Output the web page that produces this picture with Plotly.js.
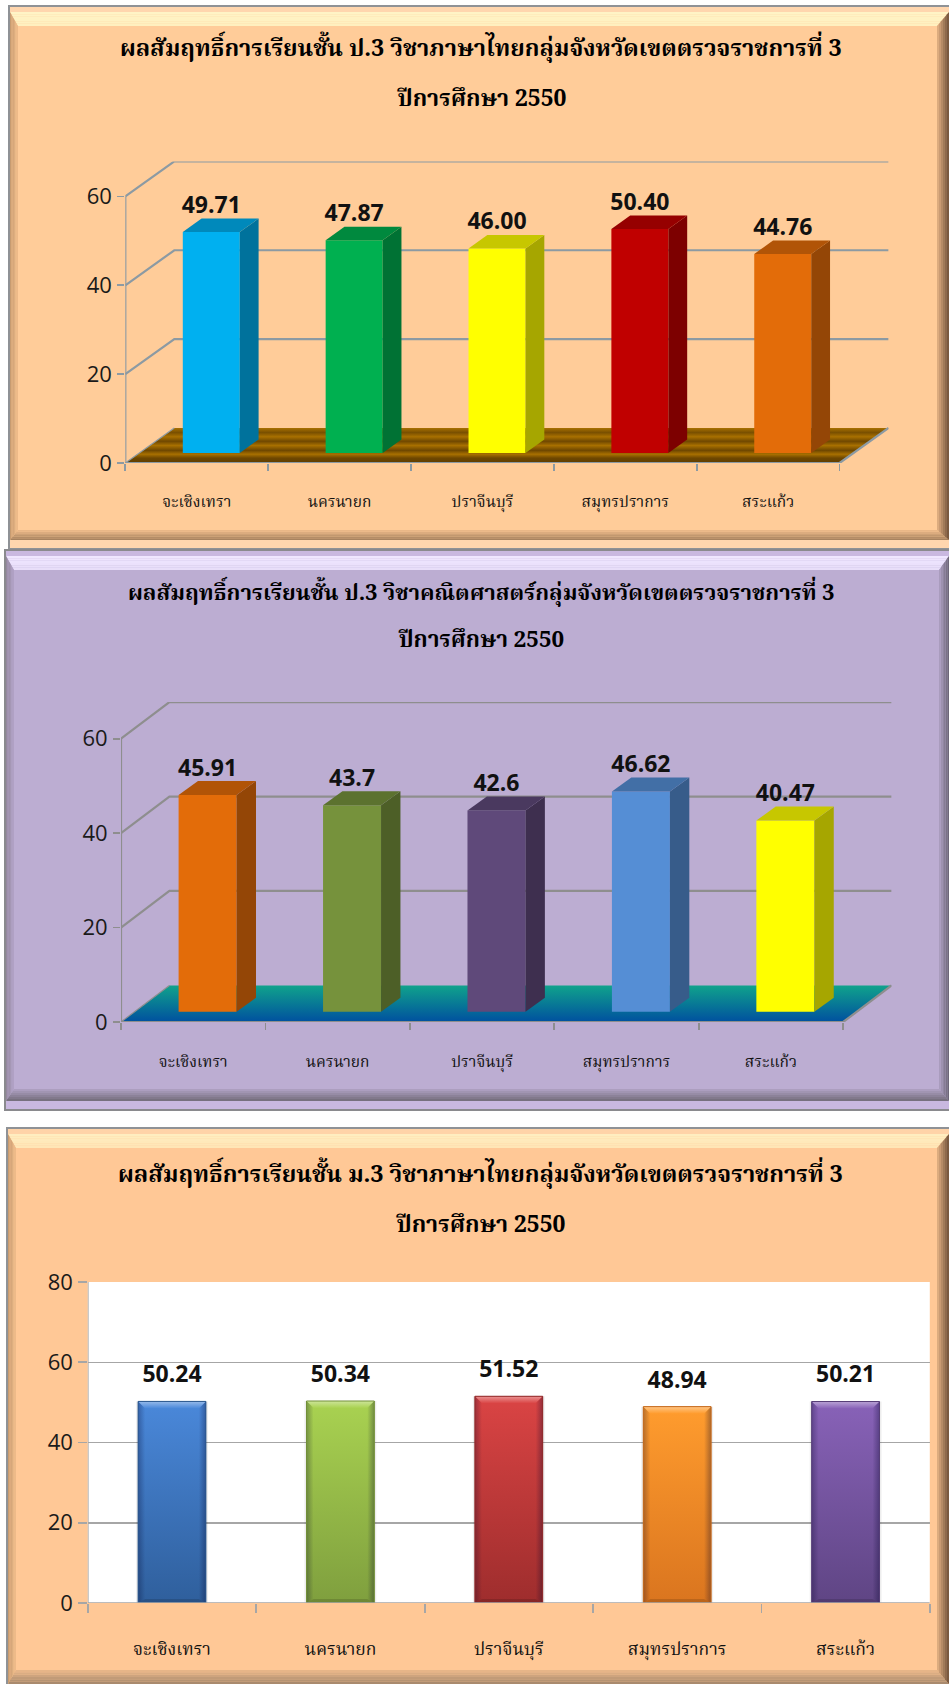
<!DOCTYPE html>
<html><head><meta charset="utf-8">
<script src="https://cdn.plot.ly/plotly-3.0.1.min.js"></script>
<style>html,body{margin:0;padding:0;background:#fff}#c{width:949px;height:1684px}</style>
</head><body><div id="c"></div>
<script>
const categories = ['จะเชิงเทรา','นครนายก','ปราจีนบุรี','สมุทรปราการ','สระแก้ว'];
const thaiP3Values = [49.71,47.87,46.00,50.40,44.76];
const thaiP3Labels = ['49.71','47.87','46.00','50.40','44.76'];
const mathP3Values = [45.91,43.7,42.6,46.62,40.47];
const mathP3Labels = ['45.91','43.7','42.6','46.62','40.47'];
const thaiM3Values = [50.24,50.34,51.52,48.94,50.21];
const thaiM3Labels = ['50.24','50.34','51.52','48.94','50.21'];
const thaiP3Colors = ['#00B0F0','#00B050','#FFFF00','#C00000','#E36C09'];
const mathP3Colors = ['#E36C09','#76923C','#5F497A','#558ED5','#FFFF00'];
const thaiM3Top = ['#4A88DA','#A9D251','#DA4444','#FF9C2E','#8862B8'];
const thaiM3Bottom = ['#2F5F9C','#7F9F3E','#9E2D2D','#DA751F','#5F4584'];
const title1 = 'ผลสัมฤทธิ์การเรียนชั้น ป.3 วิชาภาษาไทยกลุ่มจังหวัดเขตตรวจราชการที่ 3';
const title2 = 'ผลสัมฤทธิ์การเรียนชั้น ป.3 วิชาคณิตศาสตร์กลุ่มจังหวัดเขตตรวจราชการที่ 3';
const title3 = 'ผลสัมฤทธิ์การเรียนชั้น ม.3 วิชาภาษาไทยกลุ่มจังหวัดเขตตรวจราชการที่ 3';
const subtitle = 'ปีการศึกษา 2550';
const ticks3d = [0,20,40,60];
const ticksFlat = [0,20,40,60,80];

const W=949,H=1684;
const thaiTitle='"Noto Serif Thai","Noto Sans Thai","Liberation Serif",serif';
const thaiCat='"Noto Serif Thai","Noto Sans Thai","Noto Sans",sans-serif';
const numFont='"Open Sans",sans-serif';
const slots=[0,1,2,3,4,5];
const traces=[],shapes=[],annotations=[];
const layout={width:W,height:H,margin:{l:0,r:0,t:0,b:0},paper_bgcolor:'#fff',plot_bgcolor:'rgba(0,0,0,0)',showlegend:false,barmode:'overlay',shapes,annotations};

function hex(c){return [1,3,5].map(i=>parseInt(c.slice(i,i+2),16));}
function shade(c,f){return 'rgb('+hex(c).map(v=>Math.round(v*f)).join(',')+')';}
function mix(a,b,t){const A=hex(a),B=hex(b);return 'rgb('+A.map((v,i)=>Math.round(v+(B[i]-v)*t)).join(',')+')';}
const px=x=>x/W, py=y=>1-y/H;

function poly(pts,fill){
  shapes.push({type:'path',xref:'paper',yref:'paper',layer:'below',line:{width:0},fillcolor:fill,
    path:'M'+pts.map(p=>px(p[0])+','+py(p[1])).join('L')+'Z'});
}
function rect(x0,y0,x1,y1,fill){poly([[x0,y0],[x1,y0],[x1,y1],[x0,y1]],fill);}
function panel(o){
  rect(o.x0,o.y0,o.x1,o.y1,o.border);
  rect(o.x0+o.b,o.y0+o.b,o.x1,o.y1-o.b,o.rim);
  const n=6;
  const X0=o.x0+o.b+o.o,Y0=o.y0+o.b+o.oT,X1=o.x1-o.oR,Y1=o.y1-o.b-o.oB;
  rect(X0,Y0,X1,Y1,o.fill);
  for(let i=0;i<n;i++){
    const t=i/n,u=(i+1)/n;
    const lx=(s)=>X0+s*o.wL, tx=(s)=>Y0+s*o.wT, rx=(s)=>X1-s*o.wR, bx=(s)=>Y1-s*o.wB;
    poly([[lx(t),tx(t)],[rx(t),tx(t)],[rx(u),tx(u)],[lx(u),tx(u)]],mix(o.t0,o.t1,t));
    poly([[lx(t),bx(t)],[rx(t),bx(t)],[rx(u),bx(u)],[lx(u),bx(u)]],mix(o.b0,o.b1,t));
    poly([[lx(t),tx(t)],[lx(u),tx(u)],[lx(u),bx(u)],[lx(t),bx(t)]],mix(o.l0,o.l1,t));
    poly([[rx(t),tx(t)],[rx(u),tx(u)],[rx(u),bx(u)],[rx(t),bx(t)]],mix(o.r0,o.r1,t));
  }
}
function titleText(text,x,y,size){
  annotations.push({text:'<b>'+text+'</b>',xref:'paper',yref:'paper',x:px(x),y:py(y),xanchor:'center',yanchor:'middle',showarrow:false,font:{family:thaiTitle,size:size,color:'#000'}});
}
function axisPair(sfx,geo,yMax,extraX,ticks,gridOn){
  const xa={domain:[px(geo.x0),px(geo.x1+geo.bx)],range:[0,5+extraX],tickmode:'array',tickvals:categories.map((_,i)=>i+0.5),ticktext:categories,
    ticklen:geo.labelPad,tickcolor:'rgba(0,0,0,0)',tickwidth:1,ticks:'outside',showgrid:false,zeroline:false,showline:false,
    tickfont:{family:thaiCat,size:geo.catSize,color:'#111'},anchor:'y'+sfx,
    minor:{tickmode:'array',tickvals:slots,ticks:'outside',ticklen:geo.tickLen,tickcolor:geo.axisColor,tickwidth:1.8,showgrid:false}};
  const ya={domain:[py(geo.y0),py(geo.y60-geo.by)],range:[0,yMax],tickmode:'array',tickvals:ticks,ticks:'outside',ticklen:geo.tickLen,tickwidth:1.8,tickcolor:geo.axisColor,
    showgrid:gridOn,gridcolor:geo.axisColor,gridwidth:1.5,zeroline:false,showline:false,tickfont:{family:numFont,size:22,color:'#1a1a1a'},anchor:'x'+sfx,ticklabelstandoff:1};
  return [xa,ya];
}
function line(xs,ys,color,width,ax){traces.push({type:'scatter',mode:'lines',x:xs,y:ys,xaxis:ax[0],yaxis:ax[1],line:{color,width},hoverinfo:'skip'});}

function chart3d(values,labels,colors,geo,baseSfx,overSfx,floorGrad){
  const slot=(geo.x1-geo.x0)/5, unit=(geo.y0-geo.y60)/60;
  const bdx=geo.bx/slot, bdy=geo.by/unit, sdx=geo.sx/slot, sdy=geo.sy/unit;
  const base=geo.baseUp/unit, w=geo.barW/slot, start=geo.barStart/slot;
  const yMax=60+bdy;
  const [xa,ya]=axisPair(baseSfx,geo,yMax,bdx,ticks3d,false);
  layout['xaxis'+baseSfx]=xa; layout['yaxis'+baseSfx]=ya;
  layout['xaxis'+overSfx]={overlaying:'x'+baseSfx,range:[0,5+bdx],visible:false,anchor:'y'+overSfx};
  layout['yaxis'+overSfx]={overlaying:'y'+baseSfx,range:[0,yMax],visible:false,anchor:'x'+overSfx};
  const A=['x'+baseSfx,'y'+baseSfx], B=['x'+overSfx,'y'+overSfx];
  traces.push({type:'scatter',mode:'lines',x:[0,bdx,5+bdx,5,0],y:[0,bdy,bdy,0,0],fill:'toself',xaxis:A[0],yaxis:A[1],hoverinfo:'skip',
    line:{width:0},fillgradient:floorGrad(bdy)});
  ticks3d.forEach(v=>{
    if(v>0) line([0,bdx,5+bdx],[v,v+bdy,v+bdy],geo.axisColor,geo.gridW,A);
    else line([0,bdx],[0,bdy],geo.axisColor,1.2,A);
  });
  line([0,0],[0,60],geo.axisColor,geo.gridW,A);
  line([0,5,5+bdx],[0,0,bdy],geo.axisColor,geo.gridW,A);
  const cx=values.map((_,i)=>i+start+w/2);
  traces.push({type:'bar',x:cx,y:values,base:values.map(()=>base),width:w,xaxis:B[0],yaxis:B[1],marker:{color:colors,line:{width:0}},hoverinfo:'skip'});
  values.forEach((v,i)=>{
    const xl=i+start,xr=xl+w,top=base+v;
    traces.push({type:'scatter',mode:'lines',x:[xr,xr+sdx,xr+sdx,xr,xr],y:[base,base+sdy,top+sdy,top,base],fill:'toself',fillcolor:shade(colors[i],0.65),line:{width:0},xaxis:B[0],yaxis:B[1],hoverinfo:'skip'});
    traces.push({type:'scatter',mode:'lines',x:[xl,xr,xr+sdx,xl+sdx,xl],y:[top,top,top+sdy,top+sdy,top],fill:'toself',fillcolor:shade(colors[i],0.78),line:{width:0},xaxis:B[0],yaxis:B[1],hoverinfo:'skip'});
  });
  traces.push({type:'scatter',mode:'text',x:cx,y:values.map(v=>base+v+sdy+geo.labelUp/unit),text:labels,textposition:'middle center',xaxis:B[0],yaxis:B[1],
    textfont:{family:numFont,size:23,color:'#111',weight:700},hoverinfo:'skip'});
}
const stripes=(bdy)=>({type:'vertical',colorscale:[[0,'#5F3D00'],[0.14,'#6E4700'],[0.25,'#A87000'],[0.36,'#6E4700'],[0.5,'#A87000'],[0.62,'#704800'],[0.75,'#A87000'],[0.87,'#7A5000'],[1,'#A87000']]});
const tealBlue=(bdy)=>({type:'vertical',colorscale:[[0,'#00509F'],[1,'#10A38C']]});

panel({x0:8,y0:5,x1:949,y1:550,b:2,o:0,oT:5,oR:0,oB:8,border:'#8F9296',rim:'#FFD6AE',fill:'#FFCC99',wL:8,wT:14,wR:12,wB:10,
  t0:'#FFF4C6',t1:'#FFEFBE',b0:'#A8835F',b1:'#F6C18F',l0:'#C79B70',l1:'#F4C08E',r0:'#7A5A40',r1:'#F0BC8C'});
panel({x0:4,y0:549,x1:949,y1:1111,b:2,o:0,oT:5,oR:0,oB:8,border:'#8A8A8E',rim:'#C9B8E0',fill:'#BCADD2',wL:8,wT:14,wR:10,wB:12,
  t0:'#EFE6FF',t1:'#E6DCF8',b0:'#77707F',b1:'#B6A7CC',l0:'#95889F',l1:'#B5A6CB',r0:'#6E6778',r1:'#B5A6CB'});
panel({x0:6,y0:1127,x1:949,y1:1690,b:2,o:0,oT:5,oR:0,oB:4,border:'#8F9296',rim:'#FFD3A8',fill:'#FFC896',wL:8,wT:14,wR:12,wB:14,
  t0:'#FFEDC0',t1:'#FFE4B4',b0:'#A98A6E',b1:'#F2BE8D',l0:'#C79B70',l1:'#F4C08E',r0:'#7A5A40',r1:'#F0BC8C'});

chart3d(thaiP3Values,thaiP3Labels,thaiP3Colors,{x0:125.3,x1:839.6,y0:463,y60:196.4,bx:49,by:35,sx:18.8,sy:13.6,baseUp:10,barW:57,barStart:57.5,labelUp:11.5,tickLen:7,labelPad:24,axisColor:'#8C9AA3',gridW:2.2,catSize:15.5},'','2',stripes);
chart3d(mathP3Values,mathP3Labels,mathP3Colors,{x0:121,x1:843.2,y0:1022,y60:738.7,bx:48.4,by:36.6,sx:19.4,sy:14,baseUp:10.3,barW:58,barStart:57.6,labelUp:11,tickLen:7,labelPad:25,axisColor:'#8E8E8E',gridW:2.2,catSize:15.5},'3','4',tealBlue);

const geoF={x0:87.8,x1:929.8,y0:1603,y60:1282,bx:0,by:0,tickLen:8.5,labelPad:30,axisColor:'#A6A6A6',catSize:17.5};
const [xF,yF]=axisPair('5',geoF,80,0,ticksFlat,true);
layout.xaxis5=xF; layout.yaxis5=yF;
rect(87.8,1282,929.8,1603,'#FFFFFF');
const fw=0.4026, bevX=0.042, bevY=1.75;
const fc=thaiM3Values.map((_,i)=>i+0.5);
traces.push({type:'bar',x:fc,y:thaiM3Values,width:fw,xaxis:'x5',yaxis:'y5',marker:{color:thaiM3Top.map((c,i)=>mix(c,thaiM3Bottom[i],0.5)),line:{width:0}},hoverinfo:'skip'});
thaiM3Values.forEach((v,i)=>{
  const xl=i+0.5-fw/2,xr=xl+fw,s=0.012;
  const P=(xs,ys,extra)=>traces.push(Object.assign({type:'scatter',mode:'lines',x:xs,y:ys,fill:'toself',line:{width:0},xaxis:'x5',yaxis:'y5',hoverinfo:'skip'},extra));
  P([xl-s,xr+s,xr+s,xl-s,xl-s],[0,0,v,v,0],{fillcolor:'rgba(0,0,0,0.07)'});
  P([xl,xr,xr,xl,xl],[0,0,v,v,0],{fillgradient:{type:'vertical',colorscale:[[0,thaiM3Bottom[i]],[1,thaiM3Top[i]]]}});
  P([xl,xr,xr-bevX,xl+bevX,xl],[v,v,v-bevY,v-bevY,v],{fillgradient:{type:'vertical',colorscale:[[0,thaiM3Top[i]],[1,mix(thaiM3Top[i],'#FFFFFF',0.42)]]}});
  P([xl,xl+bevX,xl+bevX,xl,xl],[v,v-bevY,1,0,v],{fillgradient:{type:'horizontal',colorscale:[[0,'rgba(0,0,40,0.28)'],[1,'rgba(0,0,40,0)']]}});
  P([xr,xr-bevX,xr-bevX,xr,xr],[v,v-bevY,1,0,v],{fillgradient:{type:'horizontal',colorscale:[[0,'rgba(0,0,40,0)'],[1,'rgba(0,0,40,0.32)']]}});
  P([xl,xr,xr-bevX,xl+bevX,xl],[0,0,1,1,0],{fillcolor:'rgba(0,0,0,0.14)'});
  line([xl,xl,xr,xr],[0,v,v,0],shade(thaiM3Bottom[i],0.9),1,['x5','y5']);
});
traces.push({type:'scatter',mode:'text',x:fc,y:thaiM3Values.map(v=>v+6.2),text:thaiM3Labels,textposition:'middle center',xaxis:'x5',yaxis:'y5',
  textfont:{family:numFont,size:23,color:'#111',weight:700},hoverinfo:'skip'});
line([0,0,5],[80,0,0],'#A6A6A6',1.6,['x5','y5']);

titleText(title1,481,50,23.3); titleText(subtitle,482,100,23);
titleText(title2,481,594,22); titleText(subtitle,481,641,22.5);
titleText(title3,480,1175,23.4); titleText(subtitle,481,1226,23);

Plotly.newPlot('c',traces,layout,{displayModeBar:false,staticPlot:true});
</script></body></html>
